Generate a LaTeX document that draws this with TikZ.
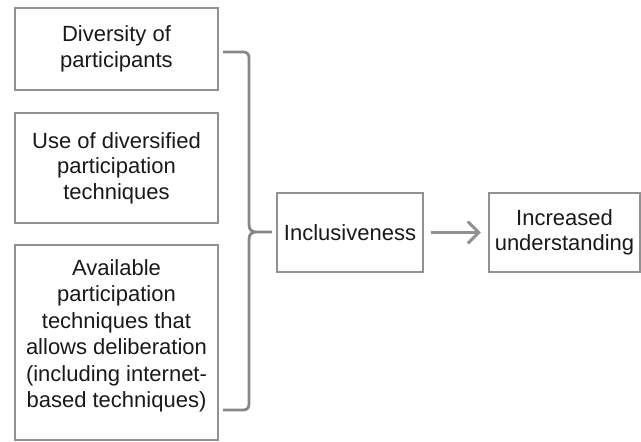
\documentclass[tikz,border=0pt]{standalone}
\usepackage{fontspec}
\setmainfont{Liberation Sans}
\usetikzlibrary{arrows.meta}
\definecolor{linegray}{RGB}{145,145,145}
\definecolor{bracegray}{RGB}{135,135,135}
\definecolor{txtcol}{RGB}{25,25,25}
\begin{document}
\begin{tikzpicture}[x=1pt,y=-1pt,
  box/.style={draw=linegray, line width=2.2pt, rectangle, inner sep=0pt, align=center,
    text=txtcol, font=\fontsize{22}{25.5}\selectfont},
  txt/.style={inner sep=0pt, align=center, text=txtcol, font=\fontsize{22}{26.5}\selectfont},
  arr/.style={draw=linegray, line width=3pt, -{Straight Barb[length=11pt,width=22pt]}}
]
\useasboundingbox (0,0) rectangle (641,442);
\node[box, minimum width=203pt, minimum height=82pt] (b1) at (116.5,49) {Diversity of\\participants};
\node[box, minimum width=203pt, minimum height=110pt] (b2) at (116.5,168) {Use of diversified\\participation\\techniques};
\node[box, minimum width=203pt, minimum height=195pt] (b3) at (116.5,342.5) {};
\node[txt] (b3t) at (116.5,336) {Available\\participation\\techniques that\\allows deliberation\\(including internet-\\based techniques)};
\node[box, minimum width=146pt, minimum height=79pt] (inc) at (350,232.5) {Inclusiveness};
\node[box, minimum width=151pt, minimum height=79pt] (und) at (564.5,232.5) {Increased\\understanding};
\draw[bracegray, line width=2.8pt, line join=round]
  (223,52) -- (243,52) .. controls (247,52) and (249,54) .. (249,58)
  -- (249,224) .. controls (249,230) and (251,232) .. (258,232) -- (272,232)
  (258,232) .. controls (251,232) and (249,234) .. (249,240)
  -- (249,404) .. controls (249,408) and (247,410) .. (243,410) -- (223,410);
\draw[arr, shorten <=7pt, shorten >=7pt] (inc.east) -- (und.west);
\end{tikzpicture}
\end{document}
